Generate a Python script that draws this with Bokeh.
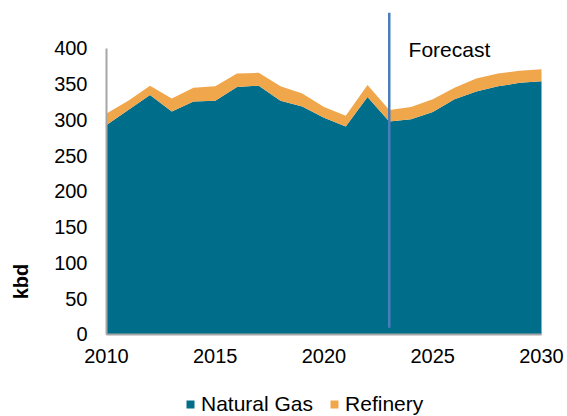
from bokeh.plotting import figure
from bokeh.models import Range1d, FixedTicker, ColumnDataSource, Label, Legend, LegendItem
from bokeh.embed import file_html
from bokeh.resources import INLINE

years = list(range(2010, 2031))
natural_gas = [293, 314, 335, 312, 326, 327, 346, 348, 327, 319, 303, 291, 332, 298, 301, 311, 329, 340, 347, 352, 354]
refinery = [16, 13, 13, 18, 19, 20, 19, 18, 20, 18, 15, 15, 17, 16, 17, 18, 16, 18, 18, 17, 17]
x_ticks = [2010, 2015, 2020, 2025, 2030]
y_ticks = [0, 50, 100, 150, 200, 250, 300, 350, 400]
forecast_year = 2023
series_names = ["Natural Gas", "Refinery"]
colors = ["#006E8A", "#F0A64A"]

FONT = "Liberation Sans"

src = ColumnDataSource(dict(year=years, ng=natural_gas, ref=refinery))

# frame covers the whole canvas; axes are pinned with fixed_location
p = figure(width=567, height=416, output_backend="svg", toolbar_location=None,
           x_range=Range1d(2005.126, 2031.195), y_range=Range1d(-114.7, 467.1),
           min_border_left=0, min_border_right=0, min_border_top=0, min_border_bottom=0)
p.title.visible = False
p.outline_line_color = None
p.xgrid.visible = False
p.ygrid.visible = False
p.background_fill_color = "white"
p.border_fill_color = "white"

rs = p.varea_stack(["ng", "ref"], x="year", source=src, color=colors)

p.segment(x0=[forecast_year], y0=[9.5], x1=[forecast_year], y1=[450], line_color="#4A7EBB", line_width=2.5)

for ax, ticks in ((p.xaxis[0], x_ticks), (p.yaxis[0], y_ticks)):
    ax.ticker = FixedTicker(ticks=ticks)
    ax.axis_line_color = "#A6A6A6"
    ax.axis_line_width = 2
    ax.major_tick_line_color = None
    ax.minor_tick_line_color = None
    ax.major_tick_out = 0
    ax.major_tick_in = 0
    ax.major_label_text_font = FONT
    ax.major_label_text_font_size = "20px"
    ax.major_label_text_color = "black"
p.xaxis[0].fixed_location = 0
p.xaxis[0].bounds = (2010, 2030)
p.yaxis[0].fixed_location = 2010
p.yaxis[0].bounds = (0, 400)
p.xaxis[0].major_label_standoff = 15
p.yaxis[0].major_label_standoff = 19

p.add_layout(Label(x=2006.09, y=74, text="kbd", angle=1.5708, text_align="center", text_baseline="middle",
                   text_font=FONT, text_font_size="20px", text_font_style="bold", text_color="black"))
p.add_layout(Label(x=forecast_year + 0.89, y=398.6, text="Forecast", text_align="left", text_baseline="alphabetic",
                   text_font=FONT, text_font_size="21px", text_color="black"))

legend = Legend(items=[LegendItem(label=series_names[i], renderers=[rs[i]]) for i in range(2)],
                orientation="horizontal", location=(185, 0), padding=0, margin=0,
                glyph_width=10, glyph_height=10, label_standoff=6, spacing=16,
                label_text_font=FONT, label_text_font_size="21px", label_text_color="black",
                border_line_alpha=0, background_fill_alpha=0)
p.add_layout(legend, "center")

open("out.html", "w").write(file_html(p, INLINE))
